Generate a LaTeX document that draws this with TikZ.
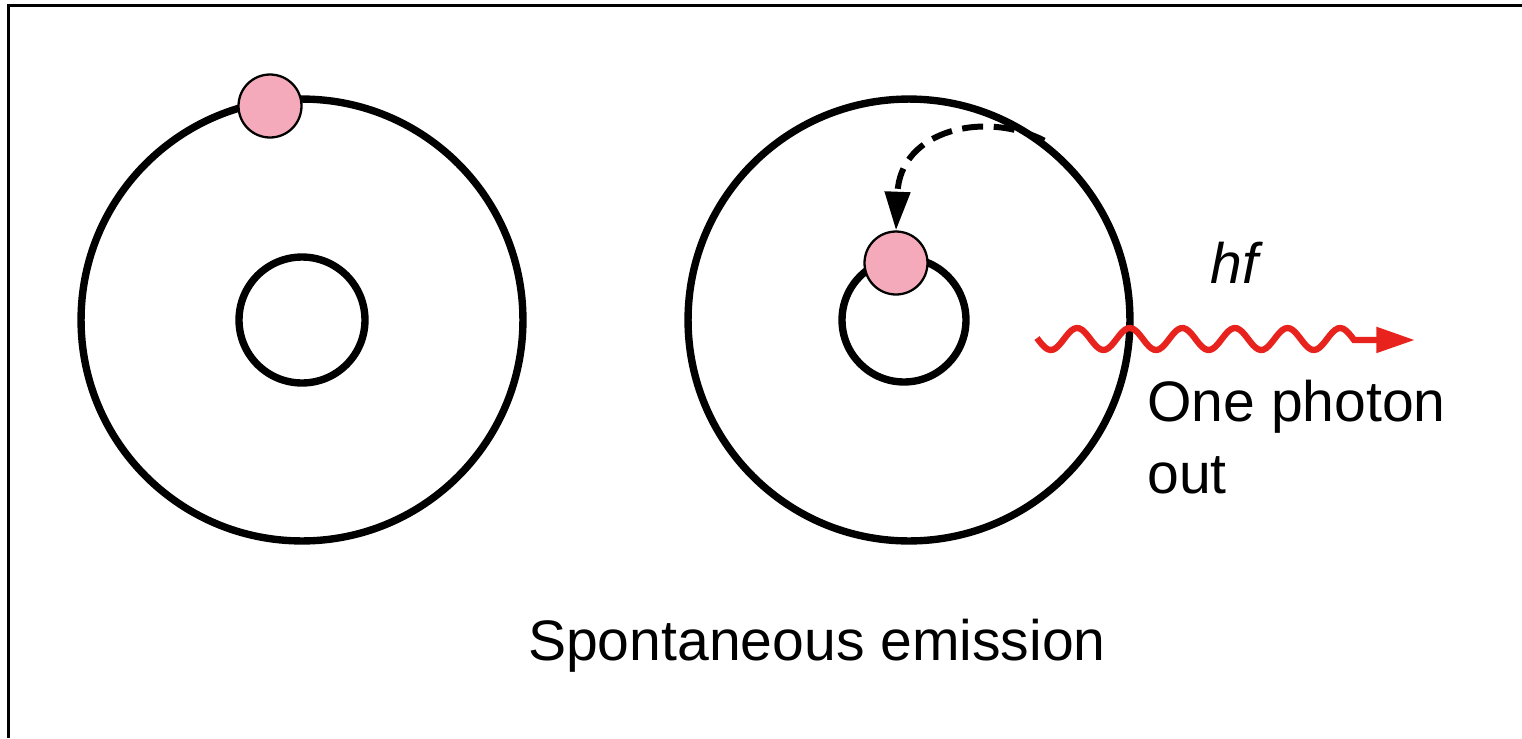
\documentclass[tikz,border=0pt]{standalone}
\usepackage{fontspec}
\setmainfont{Liberation Sans}
\usetikzlibrary{arrows.meta, positioning}
\definecolor{electronpink}{RGB}{244,170,186}
\definecolor{photonred}{RGB}{232,35,30}
\tikzset{orbit/.style={circle,draw,line width=4.2pt,inner sep=0pt},electron/.style={circle,draw,fill=electronpink,line width=1.3pt,inner sep=0pt,minimum size=1.26cm},jump/.style={line width=3.4pt,dash pattern=on 12pt off 6pt,-{Triangle[length=22pt,width=14pt]}},photon/.style={photonred,line width=3.6pt,-{Triangle[length=22pt,width=14pt]}},lbl/.style={font=\fontsize{32.5}{41}\selectfont,inner sep=0pt}}

\begin{document}
\begin{tikzpicture}[x=0.02cm, y=-0.02cm]
\useasboundingbox (0,0) rectangle (1522,738);
\draw[line width=2.2pt] (8.5,738) -- (8.5,5.5) -- (1522,5.5);
% atom before the jump
\node[orbit, minimum size=8.84cm] (outL) at (302,320) {};
\node[orbit, minimum size=2.52cm] (inL) at (302,320) {};
\node[electron] (elecL) at (270,106) {};
% atom after the jump
\node[orbit, minimum size=8.84cm] (outR) at (909,320) {};
\node[orbit, minimum size=2.48cm] (inR) at (904,320) {};
\node[electron] (elecR) at (896,263) {};
\draw[jump] (outR.53) .. controls (985,110) and (900,130) .. (elecR.north);
% photon
\coordinate (phE) at (1415,340);
\draw[photon] plot[domain=1037:1354, samples=120, smooth] (\x, {339-11*sin(6.844*(\x-1064))}) -- (phE);
\node[lbl, anchor=base] (hf) at (1237,283) {\textit{hf}};
\node[lbl, anchor=north west, align=left] (out) at (1147,380) {One photon\\out};
\node[lbl, anchor=base] (title) at (817,660) {Spontaneous emission};
\end{tikzpicture}
\end{document}
